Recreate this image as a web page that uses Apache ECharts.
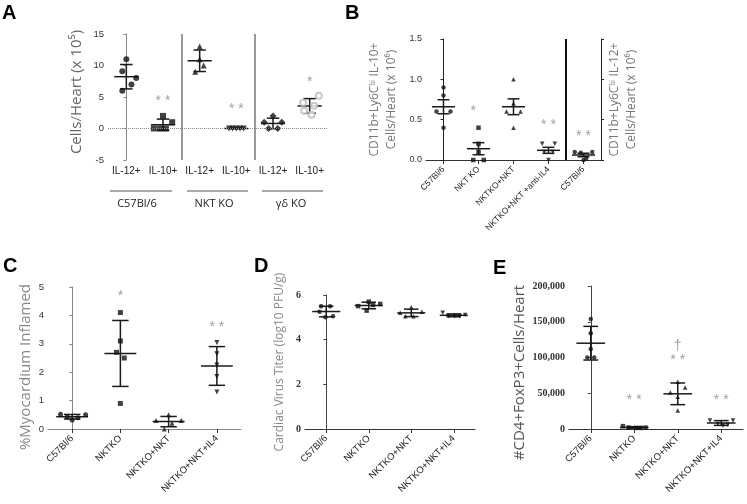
<!DOCTYPE html>
<html>
<head>
<meta charset="utf-8">
<script src="https://cdn.jsdelivr.net/npm/echarts@6/dist/echarts.min.js"></script>
<style>
html,body{margin:0;padding:0;background:#fff}
#main{width:747px;height:504px}
</style>
</head>
<body>
<div id="main"></div>
<script>
// ---- panel A : cells/heart (x 10^5), mean +/- SD
const catsA = ['IL-12+', 'IL-10+', 'IL-12+', 'IL-10+', 'IL-12+', 'IL-10+'];
const groupsA = ['C57Bl/6', 'NKT KO', 'γδ KO'];
const ptsA = [
    [11, 9.1, 8, 7, 6],
    [2, 1, 0, 0, 0],
    [13, 11, 10, 9],
    [0, 0, 0, 0, 0],
    [2, 1, 1, 0, 0],
    [5.2, 4.1, 3.6, 2.8, 2.2]
];
const jitA = [
    [0, -0.11, 0.27, 0.14, -0.11],
    [0, 0.25, -0.25, -0.08, 0.08],
    [0, 0, 0.11, -0.12],
    [-0.2, -0.1, 0, 0.1, 0.2],
    [0, -0.24, 0.24, -0.12, 0.13],
    [0.25, -0.18, 0.12, -0.15, 0.05]
];
const symA = ['circle', 'rect', 'triangle', 'down', 'diamond', 'open'];
const annA = [[1, 4.3, '* *'], [3, 3.0, '* *'], [5, 7.3, '*']];

// ---- panel B : CD11b+Ly6Chi cells (x 10^6), mean +/- SEM
const catsB = ['C57Bl/6', 'NKT KO', 'NKTKO+NKT', 'NKTKO+NKT +anti-IL4', 'C57Bl/6'];
const ptsB = [
    [0.9, 0.8, 0.6, 0.6, 0.4],
    [0.4, 0.2, 0.1, 0, 0],
    [1.0, 0.7, 0.6, 0.6, 0.4],
    [0.2, 0.2, 0.1, 0.1, 0],
    [0.1, 0.1, 0.09, 0.02, 0]
];
const jitB = [
    [0, 0, -0.2, 0.2, 0],
    [0, 0, 0, -0.15, 0.15],
    [0, 0, -0.2, 0.2, 0],
    [-0.18, 0.18, -0.12, 0.12, 0],
    [-0.25, 0.25, -0.08, 0.08, 0]
];
const symB = ['circle', 'rect', 'triangle', 'down', 'circle'];
const annB = [[0.85, 0.61, '*'], [3, 0.43, '* *'], [4, 0.30, '* *']];

// ---- panels C, D, E share the groups
const catsCDE = ['C57Bl/6', 'NKTKO', 'NKTKO+NKT', 'NKTKO+NKT+IL4'];
const symCDE = ['circle', 'rect', 'triangle', 'down'];

const ptsC = [
    [0.52, 0.5, 0.42, 0.4, 0.32],
    [4.1, 3.1, 2.7, 2.5, 0.9],
    [0.5, 0.3, 0.3, 0.2, 0.0],
    [3.05, 2.65, 2.25, 1.85, 1.3]
];
const jitC = [
    [-0.24, 0.28, -0.1, 0.12, 0],
    [0, 0, -0.08, 0.08, 0],
    [0, -0.26, 0.26, 0.07, -0.09],
    [0, 0, 0, 0, 0]
];
const annC = [[1, 4.68, '*'], [3, 3.57, '* *']];

const ptsD = [
    [5.5, 5.5, 5.25, 5.0, 5.05],
    [5.7, 5.6, 5.55, 5.5, 5.3],
    [5.45, 5.25, 5.2, 5.05, 5.05],
    [5.2, 5.05, 5.05, 5.05, 5.1]
];
const jitD = [
    [-0.12, 0.09, -0.16, -0.02, 0.16],
    [0, 0.27, 0.1, -0.25, -0.05],
    [0, 0.25, -0.26, -0.14, 0.05],
    [-0.26, -0.12, 0.02, 0.14, 0.27]
];

const ptsE = [
    [154000, 134000, 112000, 100000, 100000],
    [4000, 2000, 1500, 1500, 2000],
    [66000, 58000, 51000, 45000, 26000],
    [12000, 7000, 5000, 6000, 12000]
];
const jitE = [
    [0, 0, 0, -0.08, 0.08],
    [-0.26, -0.13, 0.04, 0.15, 0.26],
    [0, 0.17, -0.17, 0, 0],
    [-0.26, -0.08, 0.04, 0.15, 0.27]
];
const annE = [[1, 40500, '* *'], [2, 96300, '* *'], [2, 116000, '†'], [3, 40500, '* *']];

const chart = echarts.init(document.getElementById('main'));

const SANS = 'Liberation Sans';
const NARROW = 'Liberation Sans Narrow';
const SYM = {
    circle: {symbol: 'circle', style: {color: '#111'}},
    rect: {symbol: 'rect', style: {color: '#111'}},
    triangle: {symbol: 'triangle', style: {color: '#111'}},
    down: {symbol: 'path://M0,0L10,0L5,9Z', style: {color: '#111'}},
    diamond: {symbol: 'diamond', style: {color: '#111'}},
    open: {symbol: 'emptyCircle', style: {color: '#bbb', borderWidth: 1.5}}
};

function stats(v, useSem){
    const n = v.length;
    const m = v.reduce((a, b) => a + b, 0) / n;
    const sd = n > 1 ? Math.sqrt(v.reduce((a, b) => a + (b - m) * (b - m), 0) / (n - 1)) : 0;
    const e = useSem ? sd / Math.sqrt(n) : sd;
    return [m, m - e, m + e];
}

function errBar(params, api){
    const x = api.value(0);
    const band = api.size([1, 0])[0];
    const pm = api.coord([x, api.value(1)]);
    const lo = api.coord([x, api.value(2)]);
    const hi = api.coord([x, api.value(3)]);
    const hw = band * 0.33, cw = band * 0.17;
    const st = {stroke: '#1a1a1a', lineWidth: 1.5};
    return {type: 'group', children: [
        {type: 'line', shape: {x1: pm[0] - hw, y1: pm[1], x2: pm[0] + hw, y2: pm[1]}, style: st},
        {type: 'line', shape: {x1: lo[0], y1: lo[1], x2: hi[0], y2: hi[1]}, style: st},
        {type: 'line', shape: {x1: lo[0] - cw, y1: lo[1], x2: lo[0] + cw, y2: lo[1]}, style: st},
        {type: 'line', shape: {x1: hi[0] - cw, y1: hi[1], x2: hi[0] + cw, y2: hi[1]}, style: st}
    ]};
}

function annSeries(xi, yi, anns){
    return {
        type: 'custom', xAxisIndex: xi, yAxisIndex: yi, silent: true, z: 5,
        data: anns.map(a => [a[0], a[1]]),
        renderItem: function(params, api){
            const p = api.coord([api.value(0), api.value(1)]);
            return {type: 'text', x: p[0], y: p[1], style: {
                text: anns[params.dataIndex][2], fill: '#a0a0a0',
                fontSize: 14, fontFamily: SANS, align: 'center', verticalAlign: 'middle'
            }};
        }
    };
}

function panelSeries(g, yi, pts, jit, syms, useSem, size, anns, marks){
    const xi = 2 * g + 1;
    const out = [];
    out.push({
        type: 'custom', xAxisIndex: xi, yAxisIndex: yi, silent: true, z: 2,
        data: pts.map((v, i) => [i].concat(stats(v, useSem))),
        renderItem: errBar
    });
    pts.forEach(function(v, i){
        const s = SYM[syms[i]];
        const ser = {
            type: 'scatter', xAxisIndex: xi, yAxisIndex: yi, silent: true, z: 3,
            symbol: s.symbol, symbolSize: syms[i] === 'diamond' ? size + 1 : size,
            itemStyle: s.style,
            data: v.map((y, k) => [i + jit[i][k], y])
        };
        if (i === 0 && marks) ser.markLine = marks;
        out.push(ser);
    });
    if (anns) out.push(annSeries(xi, yi, anns));
    return out;
}

const grids = [
    {left: 108, top: 34, width: 220, height: 126},
    {left: 426, top: 39, width: 175, height: 121},
    {left: 48, top: 287, width: 193, height: 142},
    {left: 305, top: 295, width: 170, height: 134},
    {left: 569, top: 286, width: 174, height: 143}
];
const catLists = [catsA, catsB, catsCDE, catsCDE, catsCDE];

const xAxes = [];
catLists.forEach(function(cats, g){
    const isA = g === 0;
    xAxes.push({
        type: 'category', gridIndex: g, data: cats, boundaryGap: true,
        axisLine: {show: !isA, lineStyle: {color: g === 2 ? '#888' : '#333', width: 1}},
        axisTick: {show: !isA, alignWithLabel: true, length: 4, lineStyle: {color: '#333'}},
        axisLabel: {
            interval: 0, rotate: isA ? 0 : 45, margin: isA ? 6 : 8,
            fontSize: isA ? 10 : (g === 1 ? 8.5 : 9.5), color: '#222', fontFamily: SANS
        },
        splitLine: {show: false}
    });
    xAxes.push({type: 'value', gridIndex: g, min: -0.5, max: cats.length - 0.5, show: false});
});

function yAxis(g, min, max, interval, o){
    return {
        type: 'value', gridIndex: g, min: min, max: max, interval: interval,
        axisLine: {show: true, lineStyle: {color: o.line, width: 1}},
        axisTick: {show: true, length: 3, lineStyle: {color: o.line}},
        axisLabel: {fontSize: o.fs || 9.5, color: '#333', fontFamily: o.ff || SANS,
            fontWeight: o.fw || 'normal', margin: 4, formatter: o.fmt},
        splitLine: {show: false},
        name: o.name, nameLocation: 'middle', nameGap: o.gap, nameRotate: 90,
        nameTextStyle: {fontSize: o.nfs, color: o.ncol, fontFamily: 'Open Sans',
            lineHeight: o.lh || o.nfs + 3, padding: o.pad || 0}
    };
}

const yAxes = [
    yAxis(0, -5, 15, 5, {line: '#888', name: 'Cells/Heart (x 10⁵)', gap: 22, nfs: 15, ncol: '#666', pad: [0, 0, 0, 10]}),
    yAxis(1, 0, 1.5, 0.5, {line: '#222', fs: 9, fmt: v => v.toFixed(1),
        name: 'CD11b+Ly6Cʰⁱ IL-10+\nCells/Heart (x 10⁶)', gap: 26, nfs: 12, ncol: '#777', lh: 17}),
    Object.assign(yAxis(1, 0, 1.5, 0.5, {line: '#222',
        name: 'CD11b+Ly6Cʰⁱ IL-12+\nCells/Heart (x 10⁶)', gap: 5, nfs: 12, ncol: '#777', lh: 17}),
        {position: 'right'}),
    yAxis(2, 0, 5, 1, {line: '#888', name: '%Myocardium Inflamed', gap: 11, nfs: 15, ncol: '#888', pad: [0, 18, 0, 0]}),
    yAxis(3, 0, 6, 2, {line: '#444', ff: NARROW, fw: 'bold', fs: 10,
        name: 'Cardiac Virus Titer (log10 PFU/g)', gap: 18, nfs: 12, ncol: '#888'}),
    yAxis(4, 0, 200000, 50000, {line: '#444', ff: NARROW, fw: 'bold', fs: 10,
        fmt: v => v.toLocaleString('en-US'),
        name: '#CD4+FoxP3+Cells/Heart', gap: 38, nfs: 15, ncol: '#555', pad: [0, 30, 0, 0]})
];
yAxes[2].axisLabel.show = false;

const lineOpts = (data) => ({silent: true, symbol: ['none', 'none'], label: {show: false}, animation: false, data: data});

const marksA = lineOpts([
    {yAxis: 0, lineStyle: {type: 'dotted', color: '#888', width: 1}},
    {xAxis: 1.5, lineStyle: {type: 'solid', color: '#777', width: 1.5}},
    {xAxis: 3.5, lineStyle: {type: 'solid', color: '#777', width: 1.5}}
]);
const marksB = lineOpts([
    {xAxis: 3.5, lineStyle: {type: 'solid', color: '#111', width: 2}}
]);

const series = [].concat(
    panelSeries(0, 0, ptsA, jitA, symA, false, 6, annA, marksA),
    panelSeries(1, 1, ptsB, jitB, symB, true, 4.5, annB, marksB),
    panelSeries(2, 3, ptsC, jitC, symCDE, false, 5, annC, null),
    panelSeries(3, 4, ptsD, jitD, symCDE, false, 4.5, null, null),
    panelSeries(4, 5, ptsE, jitE, symCDE, false, 4.5, annE, null)
);

const groupLines = [[110, 172], [187, 248], [262, 323]];
const groupLabelX = [137, 214, 291];
const graphics = [];
[['A', 2, 3], ['B', 345, 3], ['C', 3, 256], ['D', 254, 256], ['E', 493, 258]].forEach(function(t){
    graphics.push({type: 'text', x: t[1], y: t[2], style: {
        text: t[0], fontSize: 20, fontWeight: 'bold', fontFamily: SANS, fill: '#000'}});
});
groupsA.forEach(function(name, i){
    graphics.push({type: 'line', shape: {x1: groupLines[i][0], y1: 191, x2: groupLines[i][1], y2: 191},
        style: {stroke: '#555', lineWidth: 1.2}});
    graphics.push({type: 'text', x: groupLabelX[i], y: 204, style: {
        text: name, fontSize: 11, fontFamily: 'Open Sans', fill: '#222', align: 'center', verticalAlign: 'middle'}});
});

chart.setOption({
    animation: false,
    backgroundColor: '#fff',
    grid: grids,
    xAxis: xAxes,
    yAxis: yAxes,
    series: series,
    graphic: graphics
});
</script>
</body>
</html>
